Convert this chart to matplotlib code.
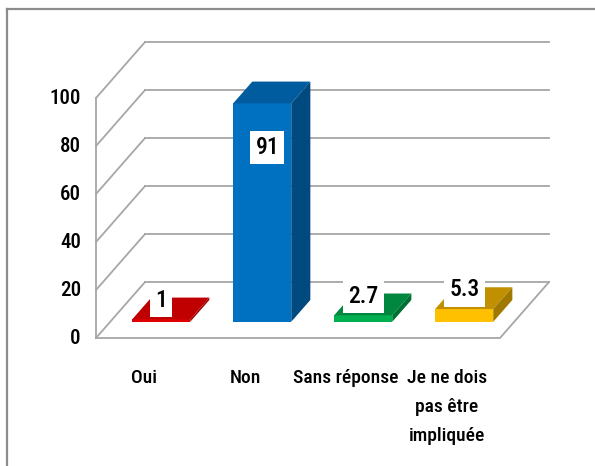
import numpy as np
import matplotlib.pyplot as plt
from matplotlib.patches import Polygon
from matplotlib import font_manager

# ------------------------------------------------------------
# Données
# ------------------------------------------------------------
categories = ['Oui', 'Non', 'Sans réponse', 'Je ne dois\npas être\nimpliquée']
valeurs = [1, 91, 2.7, 5.3]
etiquettes = ['1', '91', '2.7', '5.3']
graduations = [0, 20, 40, 60, 80, 100]

couleurs_face = ['#E00000', '#0070C0', '#00B050', '#FFC000']
couleurs_dessus = ['#C00000', '#005C9E', '#00873F', '#C09000']
couleurs_cote = ['#A00000', '#004A80', '#006F33', '#A07800']

# Géométrie de la perspective (unités de données)
prof_x, prof_y = 0.485, 23.3   # vecteur profondeur du plancher
f1, f2 = 0.29, 0.68            # profondeur avant / arrière des barres
largeur = 0.575
x_gauche, x_droite = -0.505, 3.495

# police étroite si disponible
noms = {f.name for f in font_manager.fontManager.ttflist}
etroites = [n for n in ['Liberation Sans Narrow', 'DejaVu Sans Condensed', 'Roboto Condensed',
                        'Open Sans Condensed', 'Noto Sans Condensed'] if n in noms]
plt.rcParams['font.family'] = etroites + ['DejaVu Sans']
plt.rcParams['font.stretch'] = 'condensed'

fig = plt.figure(figsize=(5.95, 4.66), dpi=100)
ax = fig.add_axes([0, 0, 1, 1])
ax.set_xlim(-147 / 101, (595 - 147) / 101)
ax.set_ylim(-128 / 2.4, (466 - 128) / 2.4)
ax.axis('off')

# Cadre du graphique
fig.add_artist(plt.Line2D([7 / 595, 1], [1 - 9 / 466] * 2, color='#8C8C8C', lw=1.6))
fig.add_artist(plt.Line2D([7 / 595] * 2, [0, 1 - 9 / 466], color='#8C8C8C', lw=1.6))

gris = '#A6A6A6'
# Quadrillage : murs gauche et arrière
for g in graduations:
    ax.plot([x_gauche, x_gauche + prof_x], [g, g + prof_y], color=gris, lw=1.3, zorder=1)
    ax.plot([x_gauche + prof_x, x_droite + prof_x + 0.005], [g + prof_y] * 2,
            color=gris, lw=1.3, zorder=1)
    ax.text(x_gauche - 0.15, g, str(g), ha='right', va='center', fontsize=15,
            fontweight='medium', color='black')
ax.plot([x_gauche, x_gauche], [0, graduations[-1]], color=gris, lw=1.3, zorder=1)
# Plancher
ax.plot([x_gauche, x_droite, x_droite + prof_x], [0, 0, prof_y], color=gris, lw=1.3, zorder=1)

# Barres 3D
for i, v in enumerate(valeurs):
    x0 = i - largeur / 2
    x1 = i + largeur / 2
    ax1x, ax1y = f1 * prof_x, f1 * prof_y
    ax2x, ax2y = f2 * prof_x, f2 * prof_y
    face = Polygon([(x0 + ax1x, ax1y), (x1 + ax1x, ax1y), (x1 + ax1x, v + ax1y),
                    (x0 + ax1x, v + ax1y)], closed=True, fc=couleurs_face[i], ec='none', zorder=3)
    dessus = Polygon([(x0 + ax1x, v + ax1y), (x1 + ax1x, v + ax1y), (x1 + ax2x, v + ax2y),
                      (x0 + ax2x, v + ax2y)], closed=True, fc=couleurs_dessus[i], ec='none', zorder=3)
    cote = Polygon([(x1 + ax1x, ax1y), (x1 + ax2x, ax2y), (x1 + ax2x, v + ax2y),
                    (x1 + ax1x, v + ax1y)], closed=True, fc=couleurs_cote[i], ec='none', zorder=3)
    for p in (face, dessus, cote):
        ax.add_patch(p)

    # Étiquette de valeur
    if v > 50:
        y_lab = v + ax1y - 18.5
        x_lab = i + ax1x + 0.05
    else:
        y_lab = v + ax1y + 8
        x_lab = i + ax1x
    ax.text(x_lab, y_lab, etiquettes[i], ha='center', va='center', fontsize=17,
            fontweight='medium', color='black', zorder=5,
            bbox=dict(boxstyle='square,pad=0.22', fc='white', ec='none'))

    # Étiquette de catégorie
    ax.text(i - 0.03, -12.8, categories[i], ha='center', va='top', fontsize=14,
            fontweight='medium', color='black', linespacing=1.8)

fig.savefig('out.png', dpi=100)
